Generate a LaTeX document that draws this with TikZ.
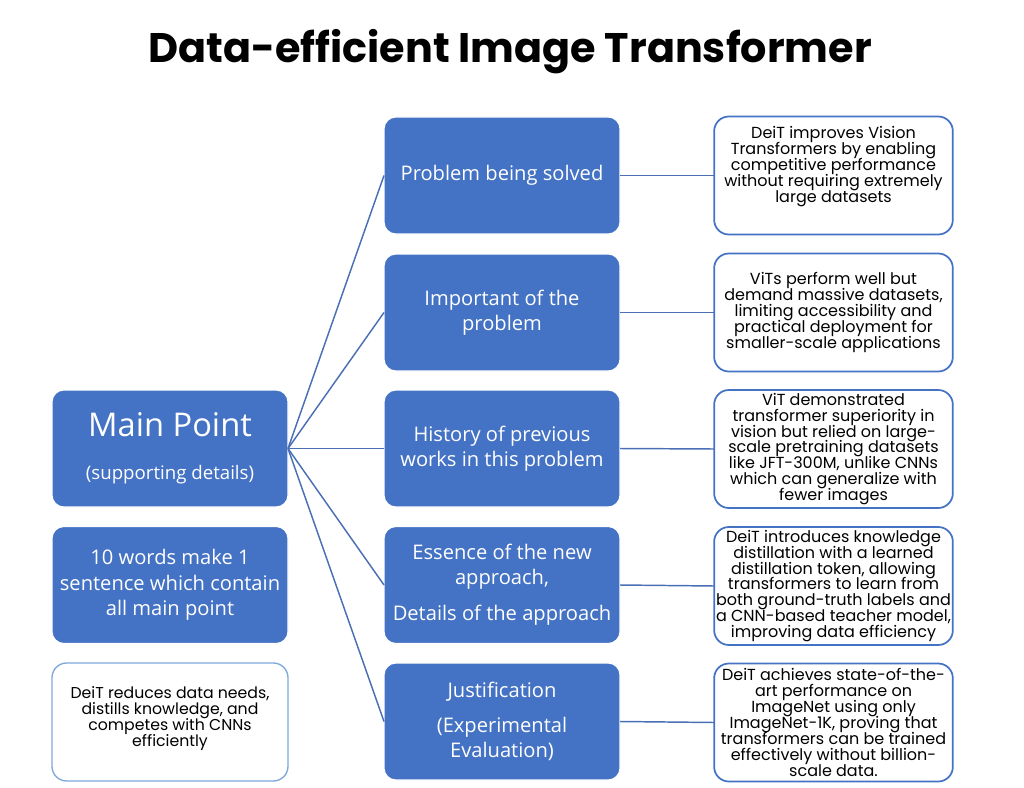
\documentclass[tikz,border=0pt]{standalone}
\usepackage{fontspec}
\setmainfont{Open Sans}
\newfontfamily\poppins{Poppins}
\newfontfamily\poppinsb{Poppins}[UprightFont=* Bold]
\newcommand\tightlines{\lineskiplimit=-20pt\relax\lineskip=0pt\relax}
\definecolor{boxblue}{HTML}{4472C4}
\definecolor{linkblue}{HTML}{4A6FB5}
\definecolor{lightedge}{HTML}{7FA8DC}
\tikzset{
  bluebox/.style={draw=white, line width=0.8pt, fill=boxblue, rounded corners=9pt, text=white,
    minimum width=177pt, minimum height=87.75pt, inner sep=2pt, outer sep=0pt, align=center,
    font=\fontsize{15.1}{19}\selectfont},
  textbox/.style={draw=boxblue, line width=1.3pt, fill=white, rounded corners=11pt, text=black,
    minimum width=179pt, minimum height=88.5pt, inner sep=1pt, outer sep=0pt, align=center,
    font=\poppins\fontsize{12}{11.9}\selectfont\tightlines},
  link/.style={draw=linkblue, line width=1.1pt}
}
\begin{document}
\begin{tikzpicture}[x=0.75pt,y=-0.75pt]
\useasboundingbox (0,0) rectangle (1024,788);
\node[font=\poppinsb\fontsize{31}{36}\selectfont] (title) at (510,52) {Data-efficient Image Transformer};
% left column
\node[bluebox] (main) at (170,448.5) {{\fontsize{24.5}{28}\selectfont Main Point}\\[13pt]{\fontsize{14}{18}\selectfont (supporting details)}};
\node[bluebox] (ten) at (170,585) {10 words make 1\\sentence which contain\\all main point};
\node[textbox, draw=lightedge, line width=1pt, minimum width=177pt, font=\poppins\fontsize{11.8}{12}\selectfont\tightlines] (sum) at (170,722) {DeiT reduces data needs,\\distills knowledge, and\\competes with CNNs\\efficiently\\[-4pt]};
% middle column
\node[bluebox] (p1) at (502,175.5) {Problem being solved};
\node[bluebox] (p2) at (502,312.5) {Important of the\\problem};
\node[bluebox] (p3) at (502,448.5) {History of previous\\works in this problem};
\node[bluebox] (p4) at (502,585) {Essence of the new\\approach,\\[8pt]Details of the approach};
\node[bluebox] (p5) at (502,721.5) {Justification\\[7pt](Experimental\\Evaluation)};
% right column
\node[textbox] (r1) at (833.5,175.5) {DeiT improves Vision\\Transformers by enabling\\competitive performance\\without requiring extremely\\large datasets\\[5pt]};
\node[textbox] (r2) at (833.5,312.5) {ViTs perform well but\\demand massive datasets,\\limiting accessibility and\\practical deployment for\\smaller-scale applications};
\node[textbox] (r3) at (833.5,449) {ViT demonstrated\\transformer superiority in\\vision but relied on large-\\scale pretraining datasets\\like JFT-300M, unlike CNNs\\which can generalize with\\fewer images};
\node[textbox] (r4) at (833.5,586) {DeiT introduces knowledge\\distillation with a learned\\distillation token, allowing\\transformers to learn from\\both ground-truth labels and\\a CNN-based teacher model,\\improving data efficiency};
\node[textbox] (r5) at (833.5,722.5) {DeiT achieves state-of-the-\\art performance on\\ImageNet using only\\ImageNet-1K, proving that\\transformers can be trained\\effectively without billion-\\scale data.};
% connectors
\foreach \n in {p1,p2,p3,p4,p5} \draw[link] (main.east) -- (\n.west);
\draw[link] (p1.east) -- (r1.west);
\draw[link] (p2.east) -- (r2.west);
\draw[link] (p3.east) -- (r3.west);
\draw[link] (p4.east) -- (r4.west);
\draw[link] (p5.east) -- (r5.west);
\end{tikzpicture}
\end{document}
